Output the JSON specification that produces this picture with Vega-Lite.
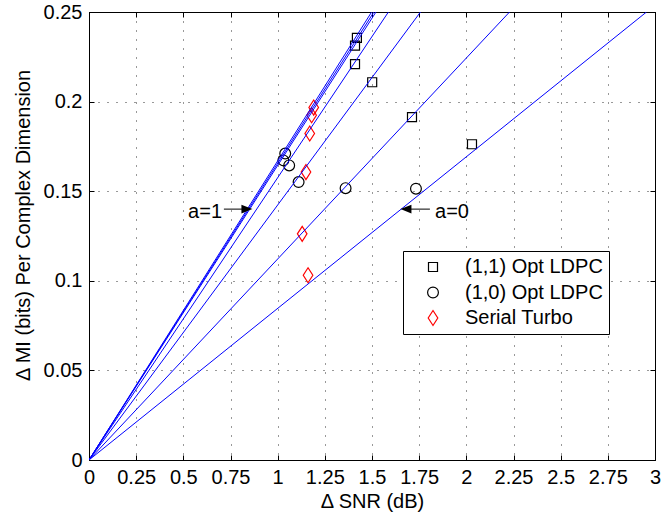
{
  "$schema": "https://vega.github.io/schema/vega-lite/v6.json",
  "width": 566,
  "height": 448,
  "autosize": {"type": "none"},
  "padding": {"left": 89, "top": 12, "right": 7, "bottom": 56},
  "background": "white",
  "config": {
    "font": "Liberation Sans",
    "view": {"stroke": "black", "strokeWidth": 1},
    "axis": {
      "labelFont": "Liberation Sans",
      "labelFontSize": 20,
      "labelColor": "black",
      "labelFlush": false,
      "titleFont": "Liberation Sans",
      "titleFontSize": 20,
      "titleFontWeight": "normal",
      "titleColor": "black",
      "domainColor": "black",
      "tickColor": "black",
      "tickSize": -5,
      "gridColor": "black",
      "gridDash": [1, 8],
      "gridOpacity": 0.8
    }
  },
  "datasets": {
    "lines": [
      {"line": "A", "x": 0, "y": 0}, {"line": "A", "x": 1.498, "y": 0.25},
      {"line": "B", "x": 0, "y": 0}, {"line": "B", "x": 1.51, "y": 0.25},
      {"line": "C", "x": 0, "y": 0}, {"line": "C", "x": 1.521, "y": 0.25},
      {"line": "D", "x": 0, "y": 0}, {"line": "D", "x": 1.587, "y": 0.25},
      {"line": "E", "x": 0, "y": 0}, {"line": "E", "x": 1.757, "y": 0.25},
      {"line": "F", "x": 0, "y": 0}, {"line": "F", "x": 2.229, "y": 0.25},
      {"line": "G", "x": 0, "y": 0}, {"line": "G", "x": 2.955, "y": 0.25}
    ],
    "points": [
      {"series": "(1,1) Opt LDPC", "x": 1.42, "y": 0.2356},
      {"series": "(1,1) Opt LDPC", "x": 1.41, "y": 0.2312},
      {"series": "(1,1) Opt LDPC", "x": 1.41, "y": 0.2209},
      {"series": "(1,1) Opt LDPC", "x": 1.501, "y": 0.2108},
      {"series": "(1,1) Opt LDPC", "x": 1.712, "y": 0.1913},
      {"series": "(1,1) Opt LDPC", "x": 2.03, "y": 0.1762},
      {"series": "(1,0) Opt LDPC", "x": 1.04, "y": 0.171},
      {"series": "(1,0) Opt LDPC", "x": 1.03, "y": 0.1672},
      {"series": "(1,0) Opt LDPC", "x": 1.061, "y": 0.1644},
      {"series": "(1,0) Opt LDPC", "x": 1.111, "y": 0.1551},
      {"series": "(1,0) Opt LDPC", "x": 1.36, "y": 0.1517},
      {"series": "(1,0) Opt LDPC", "x": 1.733, "y": 0.1514},
      {"series": "Serial Turbo", "x": 1.191, "y": 0.1967},
      {"series": "Serial Turbo", "x": 1.18, "y": 0.1924},
      {"series": "Serial Turbo", "x": 1.17, "y": 0.1822},
      {"series": "Serial Turbo", "x": 1.15, "y": 0.1607},
      {"series": "Serial Turbo", "x": 1.13, "y": 0.1262},
      {"series": "Serial Turbo", "x": 1.161, "y": 0.1031}
    ],
    "arrows": [
      {"label": "a=1", "x": 0.715, "x2": 0.837, "head": 0.837, "y": 0.14, "ty": 0.135, "tx": 0.705},
      {"label": "a=0", "x": 1.68, "x2": 1.807, "head": 1.68, "y": 0.14, "ty": 0.135, "tx": 1.834}
    ]
  },
  "layer": [
    {
      "data": {"name": "points"},
      "mark": {"type": "point", "filled": false, "strokeWidth": 1.2, "size": 225, "opacity": 1, "clip": true},
      "encoding": {
        "x": {"field": "x", "type": "quantitative", "scale": {"domain": [0, 3], "nice": false},
          "axis": {"orient": "top", "labels": false, "title": null, "grid": false, "values": [0, 0.25, 0.5, 0.75, 1, 1.25, 1.5, 1.75, 2, 2.25, 2.5, 2.75, 3]}},
        "y": {"field": "y", "type": "quantitative", "scale": {"domain": [0, 0.25], "nice": false},
          "axis": {"orient": "right", "labels": false, "title": null, "grid": false, "values": [0, 0.05, 0.1, 0.15, 0.2, 0.25]}},
        "shape": {"field": "series", "type": "nominal",
          "scale": {"domain": ["(1,1) Opt LDPC", "(1,0) Opt LDPC", "Serial Turbo"],
            "range": ["M-0.6,-0.6L0.6,-0.6L0.6,0.6L-0.6,0.6Z", "M0.72,0A0.72,0.72,0,1,1,-0.72,0A0.72,0.72,0,1,1,0.72,0Z", "M0,-1L0.64,0L0,1L-0.64,0Z"]},
          "legend": {"title": null, "orient": "none", "legendX": 314, "legendY": 239, "strokeColor": "black", "fillColor": "white", "padding": 6, "labelFontSize": 20, "labelFont": "Liberation Sans", "labelColor": "black", "symbolSize": 225, "symbolStrokeWidth": 1.2, "symbolOpacity": 1, "rowPadding": 5.5, "labelOffset": 22, "symbolOffset": 14, "labelExpr": "datum.label + '\u00a0\u00a0'"}},
        "color": {"field": "series", "type": "nominal",
          "scale": {"domain": ["(1,1) Opt LDPC", "(1,0) Opt LDPC", "Serial Turbo"], "range": ["black", "black", "red"]},
          "legend": {"title": null, "orient": "none", "legendX": 314, "legendY": 239, "strokeColor": "black", "fillColor": "white", "padding": 6, "labelFontSize": 20, "labelFont": "Liberation Sans", "labelColor": "black", "symbolSize": 225, "symbolStrokeWidth": 1.2, "symbolOpacity": 1, "rowPadding": 5.5, "labelOffset": 22, "symbolOffset": 14, "labelExpr": "datum.label + '\u00a0\u00a0'"}}
      }
    },
    {
      "data": {"name": "lines"},
      "mark": {"type": "line", "color": "#0000FF", "strokeWidth": 1, "clip": true},
      "encoding": {
        "x": {"field": "x", "type": "quantitative", "scale": {"domain": [0, 3], "nice": false},
          "axis": {"orient": "bottom", "title": "Δ SNR (dB)", "labelExpr": "'' + datum.value", "grid": true, "labelPadding": 12, "titlePadding": 4, "values": [0, 0.25, 0.5, 0.75, 1, 1.25, 1.5, 1.75, 2, 2.25, 2.5, 2.75, 3]}},
        "y": {"field": "y", "type": "quantitative", "scale": {"domain": [0, 0.25], "nice": false},
          "axis": {"orient": "left", "title": "Δ MI (bits) Per Complex Dimension", "labelExpr": "'' + datum.value", "grid": true, "labelPadding": 12, "titleX": -66, "titleY": 213, "titleBaseline": "middle", "values": [0, 0.05, 0.1, 0.15, 0.2, 0.25]}},
        "detail": {"field": "line", "type": "nominal"}
      }
    },
    {
      "data": {"name": "arrows"},
      "mark": {"type": "rule", "color": "black", "strokeWidth": 1},
      "encoding": {
        "x": {"field": "x", "type": "quantitative", "axis": null},
        "x2": {"field": "x2"},
        "y": {"field": "y", "type": "quantitative", "axis": null}
      }
    },
    {
      "data": {"name": "arrows"},
      "transform": [{"filter": "datum.label === 'a=1'"}],
      "mark": {"type": "point", "shape": "M1,0L-1,-0.8L-1,0.8Z", "filled": true, "size": 121, "color": "black", "opacity": 1},
      "encoding": {
        "x": {"field": "head", "type": "quantitative", "axis": null},
        "y": {"field": "y", "type": "quantitative", "axis": null}
      }
    },
    {
      "data": {"name": "arrows"},
      "transform": [{"filter": "datum.label === 'a=0'"}],
      "mark": {"type": "point", "shape": "M-1,0L1,-0.8L1,0.8Z", "filled": true, "size": 121, "color": "black", "opacity": 1},
      "encoding": {
        "x": {"field": "head", "type": "quantitative", "axis": null},
        "y": {"field": "y", "type": "quantitative", "axis": null}
      }
    },
    {
      "data": {"name": "arrows"},
      "transform": [{"filter": "datum.label === 'a=1'"}],
      "mark": {"type": "text", "align": "right", "baseline": "alphabetic", "fontSize": 20, "font": "Liberation Sans", "color": "black"},
      "encoding": {
        "x": {"field": "tx", "type": "quantitative", "axis": null},
        "y": {"field": "ty", "type": "quantitative", "axis": null},
        "text": {"field": "label"}
      }
    },
    {
      "data": {"name": "arrows"},
      "transform": [{"filter": "datum.label === 'a=0'"}],
      "mark": {"type": "text", "align": "left", "baseline": "alphabetic", "fontSize": 20, "font": "Liberation Sans", "color": "black"},
      "encoding": {
        "x": {"field": "tx", "type": "quantitative", "axis": null},
        "y": {"field": "ty", "type": "quantitative", "axis": null},
        "text": {"field": "label"}
      }
    }
  ],
  "resolve": {"axis": {"x": "independent", "y": "independent"}}
}
